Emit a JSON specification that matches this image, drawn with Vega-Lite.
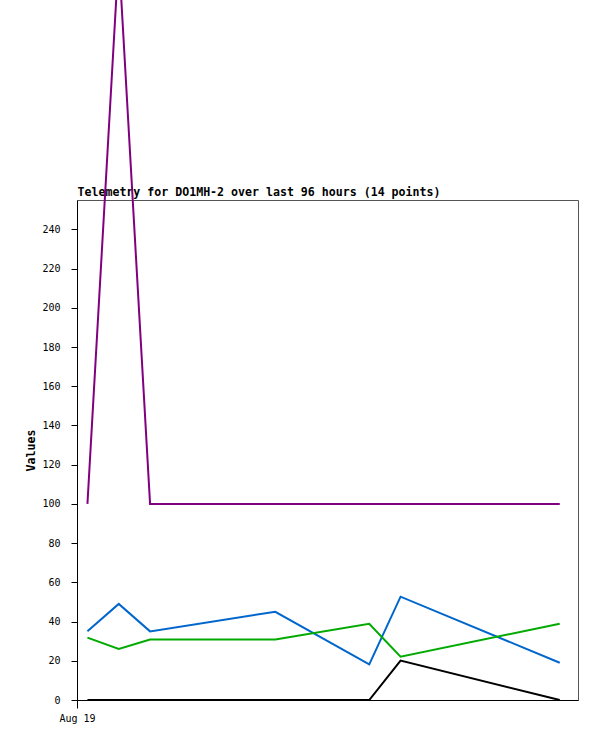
{
  "$schema": "https://vega.github.io/schema/vega-lite/v6.json",
  "autosize": {"type": "none"},
  "padding": {"left": 77, "top": 200, "right": 19, "bottom": 41},
  "width": 501,
  "height": 500,
  "background": "white",
  "config": {
    "view": {"stroke": "#555555", "strokeWidth": 1},
    "axis": {"labelFont": "DejaVu Sans Mono", "labelFontSize": 10, "labelColor": "black", "domainColor": "black", "tickColor": "black", "grid": false, "titleFont": "DejaVu Sans Mono", "titleFontSize": 11.6, "titleFontWeight": "bold", "titleColor": "black"}
  },
  "data": {"values": [
    {"time": "2024-08-19T02:00:00", "series": "a", "value": 100},
    {"time": "2024-08-19T08:00:00", "series": "a", "value": 380},
    {"time": "2024-08-19T14:00:00", "series": "a", "value": 100},
    {"time": "2024-08-20T14:00:00", "series": "a", "value": 100},
    {"time": "2024-08-21T08:00:00", "series": "a", "value": 100},
    {"time": "2024-08-21T14:00:00", "series": "a", "value": 100},
    {"time": "2024-08-22T20:30:00", "series": "a", "value": 100},
    {"time": "2024-08-19T02:00:00", "series": "b", "value": 35},
    {"time": "2024-08-19T08:00:00", "series": "b", "value": 49},
    {"time": "2024-08-19T14:00:00", "series": "b", "value": 35},
    {"time": "2024-08-20T14:00:00", "series": "b", "value": 45},
    {"time": "2024-08-21T08:00:00", "series": "b", "value": 18.2},
    {"time": "2024-08-21T14:00:00", "series": "b", "value": 52.7},
    {"time": "2024-08-22T20:30:00", "series": "b", "value": 19},
    {"time": "2024-08-19T02:00:00", "series": "c", "value": 31.8},
    {"time": "2024-08-19T08:00:00", "series": "c", "value": 26},
    {"time": "2024-08-19T14:00:00", "series": "c", "value": 30.8},
    {"time": "2024-08-20T14:00:00", "series": "c", "value": 30.8},
    {"time": "2024-08-21T08:00:00", "series": "c", "value": 38.9},
    {"time": "2024-08-21T14:00:00", "series": "c", "value": 22.1},
    {"time": "2024-08-22T20:30:00", "series": "c", "value": 38.9},
    {"time": "2024-08-19T02:00:00", "series": "d", "value": 0},
    {"time": "2024-08-19T08:00:00", "series": "d", "value": 0},
    {"time": "2024-08-19T14:00:00", "series": "d", "value": 0},
    {"time": "2024-08-20T14:00:00", "series": "d", "value": 0},
    {"time": "2024-08-21T08:00:00", "series": "d", "value": 0},
    {"time": "2024-08-21T14:00:00", "series": "d", "value": 20.1},
    {"time": "2024-08-22T20:30:00", "series": "d", "value": 0}
  ]},
  "resolve": {"axis": {"x": "independent"}},
  "layer": [
    {
      "mark": {"type": "line", "strokeWidth": 2, "clip": false},
      "encoding": {
        "x": {"field": "time", "type": "temporal",
          "scale": {"domain": [{"year": 2024, "month": 8, "date": 19}, {"year": 2024, "month": 8, "date": 23}], "nice": false},
          "axis": {"title": null, "values": [{"year": 2024, "month": 8, "date": 19}], "format": "%b %d", "tickSize": 8, "labelPadding": 5, "labelFlush": false}},
        "y": {"field": "value", "type": "quantitative",
          "scale": {"domain": [0, 255], "nice": false, "zero": true},
          "axis": {"title": "Values", "values": [0, 20, 40, 60, 80, 100, 120, 140, 160, 180, 200, 220, 240], "tickSize": 6, "labelPadding": 11, "titlePadding": 5}},
        "color": {"field": "series", "type": "nominal",
          "scale": {"domain": ["a", "b", "c", "d"], "range": ["#800080", "#0066cc", "#00aa00", "#000000"]},
          "legend": null},
        "order": {"field": "time", "type": "temporal"}
      }
    },
    {
      "mark": {"type": "rule", "opacity": 0},
      "encoding": {
        "x": {"field": "time", "type": "temporal",
          "axis": {"orient": "top", "title": "Telemetry for DO1MH-2 over last 96 hours (14 points)", "titleFont": "DejaVu Sans Mono", "titleFontSize": 11.6, "titleFontWeight": "bold", "titleAnchor": "start", "titleAlign": "left", "titleBaseline": "alphabetic", "titlePadding": 5, "ticks": false, "labels": false, "domain": false, "grid": false}}
      }
    }
  ]
}
